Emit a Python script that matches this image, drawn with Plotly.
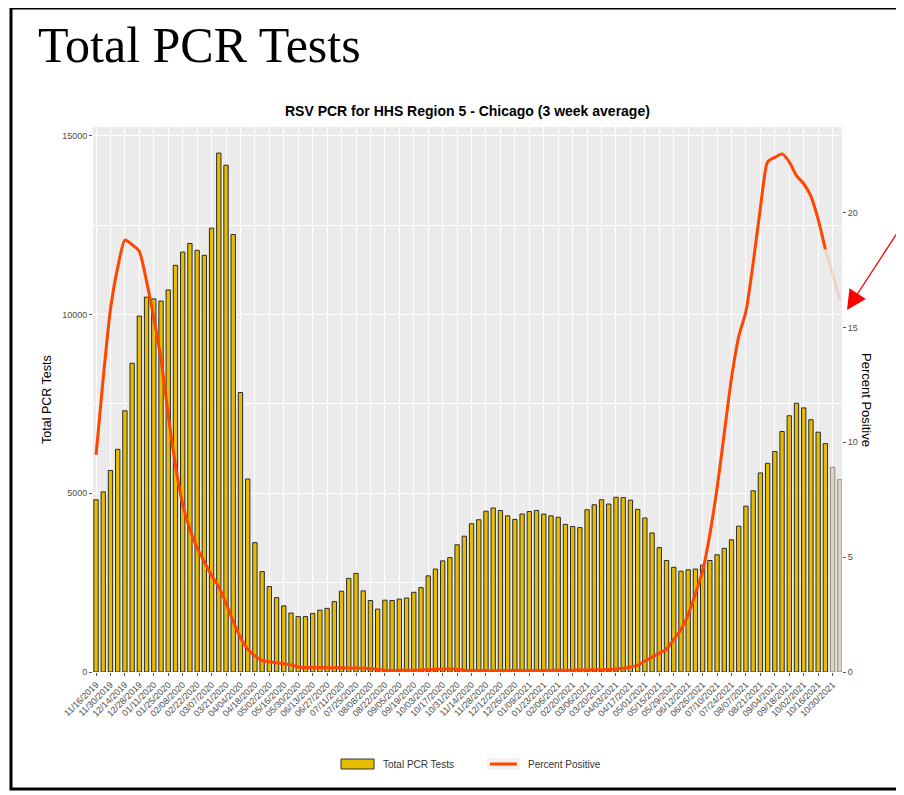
import pandas as pd
import plotly.graph_objects as go

# ---------------- data ----------------
week_dates = pd.date_range("2019-11-16", periods=104, freq="7D")
categories = [d.strftime("%m/%d/%Y") for d in week_dates]
tick_labels = categories[0:103:2]

total_pcr_tests = [
    4820, 5040, 5640, 6230, 7310, 8640, 9960, 10490, 10440, 10380,
    10690, 11380, 11750, 11990, 11800, 11660, 12420, 14520, 14180, 12240,
    7820, 5400, 3620, 2810, 2390, 2080, 1850, 1650, 1550, 1550,
    1640, 1730, 1780, 1970, 2260, 2620, 2760, 2270, 2000, 1760,
    2010, 2000, 2040, 2070, 2230, 2360, 2690, 2880, 3110, 3200,
    3560, 3800, 4150, 4260, 4500, 4590, 4520, 4370, 4270, 4420,
    4490, 4520, 4420, 4370, 4330, 4130, 4070, 4040, 4540, 4680,
    4820, 4700, 4890, 4880, 4810, 4550, 4310, 3890, 3480, 3120,
    2930, 2820, 2860, 2880, 2990, 3120, 3280, 3460, 3700, 4080,
    4640, 5070, 5570, 5840, 6170, 6730, 7170, 7520, 7390, 7060,
    6710, 6390, 5730, 5380,
]

percent_positive = [
    9.45, 12.8, 15.8, 17.6, 18.8, 18.6, 18.3, 17.0, 15.4, 13.6,
    11.2, 9.0, 7.3, 6.2, 5.4, 4.8, 4.2, 3.7, 3.0, 2.2,
    1.5, 1.0, 0.7, 0.5, 0.45, 0.4, 0.36, 0.31, 0.22, 0.2,
    0.2, 0.2, 0.19, 0.18, 0.18, 0.17, 0.17, 0.16, 0.14, 0.11,
    0.08, 0.07, 0.07, 0.08, 0.08, 0.09, 0.1, 0.12, 0.13, 0.13,
    0.12, 0.08, 0.07, 0.07, 0.06, 0.06, 0.07, 0.07, 0.07, 0.06,
    0.06, 0.07, 0.07, 0.07, 0.08, 0.08, 0.08, 0.09, 0.09, 0.1,
    0.1, 0.11, 0.13, 0.16, 0.22, 0.3, 0.48, 0.65, 0.82, 1.0,
    1.42, 1.85, 2.5, 3.4, 4.4, 6.0, 8.0, 10.4, 12.8, 14.6,
    15.7, 17.8, 20.2, 22.2, 22.4, 22.55, 22.2, 21.6, 21.25, 20.7,
    19.7, 18.4, 17.3, 16.2,
]

n_complete = 102  # last two weeks are incomplete (faded)

# ---------------- layout helpers ----------------
OFF = 8  # page body margin offsets the figure by 8px
W, H = 904 - OFF, 795 - OFF
L, R, T, B = 93 - OFF, 62, 127 - OFF, 123
PW, PH = W - L - R, H - T - B


def px(x):
    return (x - OFF - L) / PW


def py(y):
    return (H - B - (y - OFF)) / PH


GOLD = "#E6BE00"
ORANGE = "#FF4500"

bar_colors = [GOLD if i < n_complete else "rgba(220,212,190,1)" for i in range(len(categories))]
bar_lines = ["#2a2a2a" if i < n_complete else "#8c8c84" for i in range(len(categories))]

fig = go.Figure()
fig.add_trace(go.Bar(
    x=categories, y=total_pcr_tests, name="Total PCR Tests",
    marker=dict(color=bar_colors, line=dict(color=bar_lines, width=1)),
    width=0.6, showlegend=False,
))
fig.add_trace(go.Scatter(
    x=categories[:n_complete], y=percent_positive[:n_complete],
    mode="lines", line=dict(color=ORANGE, width=3, shape="spline", smoothing=0.6),
    yaxis="y2", name="Percent Positive", showlegend=False,
))
fig.add_trace(go.Scatter(
    x=categories[n_complete - 1:], y=percent_positive[n_complete - 1:],
    mode="lines", line=dict(color="rgba(255,69,0,0.15)", width=3), yaxis="y2",
    showlegend=False,
))

tickfont = dict(family="Liberation Sans, Arial", size=9, color="#4D4D4D")

fig.update_layout(
    width=W, height=H, autosize=False,
    margin=dict(l=L, r=R, t=T, b=B),
    paper_bgcolor="white", plot_bgcolor="#EBEBEB",
    bargap=0.4,
    xaxis=dict(
        type="category", range=[-0.42, 103.3],
        tickmode="array", tickvals=tick_labels, ticktext=tick_labels,
        tickangle=-45, tickfont=tickfont,
        ticks="outside", ticklen=3, tickcolor="#555",
        showgrid=True, gridcolor="white", gridwidth=1.1,
        zeroline=False, showline=False,
    ),
    yaxis=dict(
        range=[0, 15250], tickvals=[0, 5000, 10000, 15000], tickformat="d",
        tickfont=tickfont, ticks="outside", ticklen=3, tickcolor="#555",
        showgrid=True, gridcolor="white", gridwidth=1.1,
        minor=dict(tickvals=[2500, 7500, 12500], showgrid=True, gridcolor="white", gridwidth=0.6),
        zeroline=False, showline=False,
    ),
    yaxis2=dict(
        range=[0, 23.72], overlaying="y", side="right",
        tickvals=[0, 5, 10, 15, 20], tickfont=tickfont,
        ticks="outside", ticklen=3, tickcolor="#555",
        showgrid=False, zeroline=False, showline=False,
    ),
    font=dict(family="Liberation Sans, Arial"),
)

annotations = [
    dict(text="Total PCR Tests", x=px(36), y=py(45), xref="paper", yref="paper",
         xanchor="left", yanchor="middle", showarrow=False,
         font=dict(family="Liberation Serif, Times New Roman", size=50, color="black")),
    dict(text="<b>RSV PCR for HHS Region 5 - Chicago (3 week average)</b>",
         x=px(467), y=py(111), xref="paper", yref="paper",
         xanchor="center", yanchor="middle", showarrow=False,
         font=dict(family="Liberation Sans, Arial", size=14, color="black")),
    dict(text="Total PCR Tests", x=px(47), y=py(400), xref="paper", yref="paper",
         xanchor="center", yanchor="middle", showarrow=False, textangle=-90,
         font=dict(family="Liberation Sans, Arial", size=12.5, color="black")),
    dict(text="Percent Positive", x=px(867), y=py(400), xref="paper", yref="paper",
         xanchor="center", yanchor="middle", showarrow=False, textangle=90,
         font=dict(family="Liberation Sans, Arial", size=13, color="black")),
    dict(text="Total PCR Tests", x=px(381), y=py(764), xref="paper", yref="paper",
         xanchor="left", yanchor="middle", showarrow=False,
         font=dict(family="Liberation Sans, Arial", size=10, color="#333")),
    dict(text="Percent Positive", x=px(526), y=py(764), xref="paper", yref="paper",
         xanchor="left", yanchor="middle", showarrow=False,
         font=dict(family="Liberation Sans, Arial", size=10, color="#333")),
    dict(text="", x=px(847), y=py(310), xref="paper", yref="paper",
         showarrow=True, ax=56, ay=-86, arrowcolor="#FF0000",
         arrowwidth=1.3, arrowhead=2, arrowsize=3, standoff=0),
]
fig.update_layout(annotations=annotations)

shapes = [
    # outer frame
    dict(type="rect", xref="paper", yref="paper",
         x0=px(11), x1=px(902), y0=py(8), y1=py(789),
         line=dict(color="black", width=3), fillcolor="rgba(0,0,0,0)", layer="above"),
    # legend: bar key
    dict(type="rect", xref="paper", yref="paper",
         x0=px(341), x1=px(374), y0=py(759), y1=py(769),
         line=dict(color="#333", width=1), fillcolor=GOLD),
    # legend: line key background
    dict(type="rect", xref="paper", yref="paper",
         x0=px(487), x1=px(520), y0=py(758), y1=py(770),
         line=dict(width=0), fillcolor="#F2F2F2"),
    dict(type="line", xref="paper", yref="paper",
         x0=px(490), x1=px(517), y0=py(764), y1=py(764),
         line=dict(color=ORANGE, width=3)),
]
fig.update_layout(shapes=shapes)

fig.write_html("out.html")
